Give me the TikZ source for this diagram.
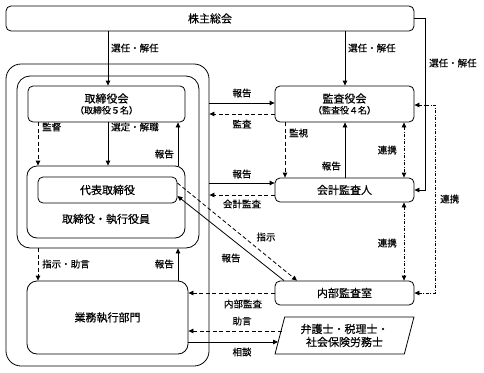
\documentclass[tikz,border=0pt]{standalone}
\usepackage{fontspec}
\setmainfont{Noto Sans CJK JP}[FakeBold=0.35]
\usetikzlibrary{arrows.meta,shapes.geometric}
\tikzset{
  box/.style={draw, rounded corners=5pt, line width=0.8pt, inner sep=0pt, font=\fontsize{11}{13}\selectfont, align=center},
  bigbox/.style={draw, rounded corners=13pt, line width=0.8pt, inner sep=0pt},
  lbl/.style={font=\fontsize{9.5}{11}\selectfont, inner sep=1pt},
  conn/.style={line width=0.8pt, -{Triangle[length=5pt,width=4.5pt]}},
  biconn/.style={line width=0.8pt, {Triangle[length=5pt,width=4.5pt]}-{Triangle[length=5pt,width=4.5pt]}},
  dsh/.style={dash pattern=on 4pt off 2.5pt},
  dshdot/.style={dash pattern=on 3pt off 1.5pt on 1pt off 1.5pt},
}
\begin{document}
\begin{tikzpicture}[x=1pt,y=-1pt]
\useasboundingbox (0,0) rectangle (484,372);
% nodes
\node[box, minimum width=408pt, minimum height=25pt] (kabu) at (210,18.5) {株主総会};
\node[bigbox, rounded corners=15pt, minimum width=203pt, minimum height=302pt] (outer) at (107.5,215) {};
\node[bigbox, rounded corners=13pt, minimum width=182pt, minimum height=172pt] (board) at (108,162) {};
\node[box, minimum width=157pt, minimum height=36pt] (torikai) at (106.5,104) {取締役会\\[-2pt]{\fontsize{9}{10}\selectfont （取締役５名）}};
\node[bigbox, rounded corners=10pt, minimum width=158pt, minimum height=72pt] (exec) at (106,202) {};
\node[box, minimum width=139pt, minimum height=26pt] (daihyo) at (107.5,190) {代表取締役};
\node[font=\fontsize{11}{13}\selectfont, inner sep=0pt] (execlbl) at (106,219) {取締役・執行役員};
\node[box, rounded corners=10pt, minimum width=161pt, minimum height=73pt] (gyomu) at (107.5,317.5) {業務執行部門};
\node[box, minimum width=139pt, minimum height=36pt] (kansa) at (344.5,104) {監査役会\\[-2pt]{\fontsize{9}{10}\selectfont （監査役４名）}};
\node[box, minimum width=139pt, minimum height=24pt] (kaikei) at (344.5,190) {会計監査人};
\node[box, minimum width=139pt, minimum height=24pt] (naibu) at (344.5,293) {内部監査室};
\node[draw, line width=0.8pt, trapezium, trapezium left angle=73, trapezium right angle=107, trapezium stretches=true, minimum width=139pt, minimum height=37pt, inner sep=0pt, align=center, font=\fontsize{11}{13}\selectfont] (bengo) at (344.5,335.5) {弁護士・税理士・\\社会保険労務士};
% connectors
\draw[conn] (kabu.south -| 108,0) -- (torikai.north -| 108,0);
\node[lbl, anchor=west] (l1) at (110,48) {選任・解任};
\draw[conn] (kabu.south -| 345,0) -- (kansa.north -| 345,0);
\node[lbl, anchor=west] (l2) at (347,48) {選任・解任};
\draw[conn] (kabu.east) -- (425,18.5) -- (425,190) -- (kaikei.east);
\node[lbl, anchor=west] (l3) at (428,63) {選任・解任};

\draw[conn] (outer.east |- 0,103) -- (kansa.west |- 0,103);
\node[lbl] (l4) at (242,93) {報告};
\draw[conn, dsh] (kansa.west |- 0,114) -- (outer.east |- 0,114);
\node[lbl] (l5) at (242,124) {監査};

\draw[conn, dsh] (torikai.south -| 38,0) -- (exec.north -| 38,0);
\node[lbl, anchor=west] (l6) at (41,127) {監督};
\draw[conn] (torikai.south -| 108,0) -- (exec.north -| 108,0);
\node[lbl, anchor=west] (l7) at (110,127) {選定・解職};
\draw[conn] (exec.north -| 178,0) -- (torikai.south -| 178,0);
\node[lbl, anchor=east] (l8) at (175,154) {報告};

\draw[conn, dsh] (kansa.south -| 285,0) -- (kaikei.north -| 285,0);
\node[lbl, anchor=west] (l9) at (288,133) {監視};
\draw[conn] (kaikei.north -| 345,0) -- (kansa.south -| 345,0);
\node[lbl, anchor=east] (l10) at (342,166) {報告};
\draw[biconn, dshdot] (kansa.south -| 404,0) -- (kaikei.north -| 404,0);
\node[lbl, anchor=east] (l11) at (398,150) {連携};
\draw[biconn, dshdot] (kaikei.south -| 404,0) -- (naibu.north -| 404,0);
\node[lbl, anchor=east] (l12) at (398,243) {連携};
\draw[biconn, dshdot] (kansa.east |- 0,105) -- (435,105) -- (435,293) -- (naibu.east);
\node[lbl, anchor=west] (l13) at (439,199) {連携};

\draw[conn] (outer.east |- 0,183) -- (kaikei.west |- 0,183);
\node[lbl] (l14) at (242,174) {報告};
\draw[conn, dsh] (kaikei.west |- 0,195) -- (outer.east |- 0,195);
\node[lbl] (l15) at (242,204) {会計監査};

\draw[conn, dsh] (daihyo.east |- 0,183) -- (naibu.north -| 297,0);
\node[lbl] (l16) at (266,237) {指示};
\draw[conn] (naibu.north -| 284,0) -- (daihyo.east |- 0,196);
\node[lbl] (l17) at (231,258) {報告};

\draw[conn, dsh] (board.south -| 38,0) -- (gyomu.north -| 38,0);
\node[lbl, anchor=west] (l18) at (41,264) {指示・助言};
\draw[conn] (gyomu.north -| 178,0) -- (board.south -| 178,0);
\node[lbl, anchor=east] (l19) at (175,264) {報告};

\draw[conn, dsh] (naibu.west) -- (gyomu.east |- naibu.west);
\node[lbl] (l20) at (243,304) {内部監査};
\draw[conn, dsh] (281.5,331) -- (gyomu.east |- 0,331);
\node[lbl] (l21) at (242,321) {助言};
\draw[conn] (gyomu.east |- 0,342) -- (278,342);
\node[lbl] (l22) at (242,352) {相談};
\end{tikzpicture}
\end{document}
